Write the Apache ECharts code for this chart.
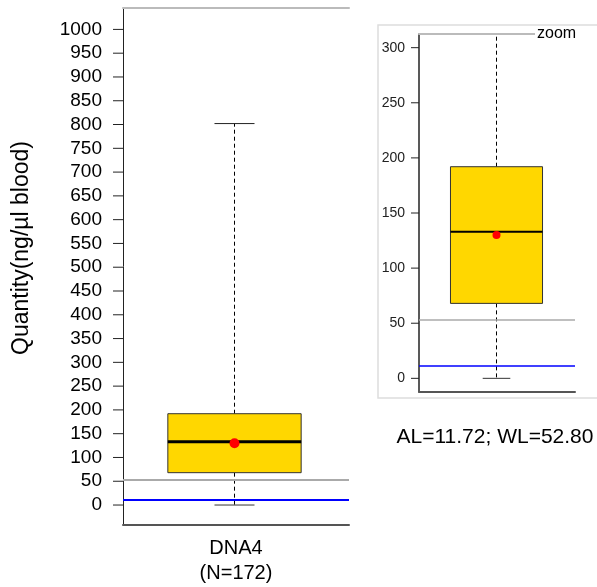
<!DOCTYPE html>
<html>
<head>
<meta charset="utf-8">
<script src="https://cdn.jsdelivr.net/npm/echarts@6/dist/echarts.min.js"></script>
<style>html,body{margin:0;padding:0;background:#fff}#c{width:597px;height:587px}</style>
</head>
<body>
<div id="c"></div>
<script>
// ---- data ----
const categories = ['DNA4'];
const nLabels = ['(N=172)'];
const q1 = [68];
const median = [133];
const q3 = [192];
const whiskerLow = [0];
const whiskerHigh = [802];
const mean = [130];
const AL = 11.72;
const WL = 52.80;
const mainTicks = [0, 50, 100, 150, 200, 250, 300, 350, 400, 450, 500, 550, 600, 650, 700, 750, 800, 850, 900, 950, 1000];
const zoomTicks = [0, 50, 100, 150, 200, 250, 300];
const zoomTitle = 'zoom';
const yTitle = 'Quantity(ng/\u00b5l blood)';

const FONT = 'Liberation Sans, Arial, sans-serif';
const boxData = categories.map((c, i) => [i, q1[i], median[i], q3[i], whiskerLow[i], whiskerHigh[i], mean[i]]);

function makeRender(opt) {
  return function (params, api) {
    const cs = params.coordSys;
    const clampY = y => Math.max(cs.y, Math.min(cs.y + cs.height, y));
    const idx = api.value(0);
    const band = api.size([1, 0])[0];
    const bw = band * 0.59;
    const cw = band * 0.177;
    const cx = Math.round(api.coord([idx, 0])[0] - opt.shift) + 0.5;
    const yQ1 = clampY(api.coord([idx, api.value(1)])[1]);
    const yMed = clampY(api.coord([idx, api.value(2)])[1]);
    const yQ3 = clampY(api.coord([idx, api.value(3)])[1]);
    const yLo = clampY(api.coord([idx, api.value(4)])[1]);
    const yHi = clampY(api.coord([idx, api.value(5)])[1]);
    const yMean = api.coord([idx, api.value(6)])[1];
    const children = [
      {type: 'line', shape: {x1: cx, y1: yQ3, x2: cx, y2: yHi}, style: {stroke: '#000', lineWidth: 1, lineDash: [4, 3]}},
      {type: 'line', shape: {x1: cx, y1: yQ1, x2: cx, y2: yLo}, style: {stroke: '#000', lineWidth: 1, lineDash: [4, 3]}},
      {type: 'rect', shape: {x: cx - bw / 2, y: yQ3, width: bw, height: yQ1 - yQ3}, style: {fill: '#FFD700', stroke: '#333', lineWidth: 1}},
      {type: 'line', shape: {x1: cx - bw / 2, y1: yMed, x2: cx + bw / 2, y2: yMed}, style: {stroke: '#000', lineWidth: opt.medW}},
      {type: 'circle', shape: {cx: cx, cy: yMean, r: opt.r}, style: {fill: '#ff0000'}}
    ];
    if (api.value(5) <= opt.max) {
      children.push({type: 'line', shape: {x1: cx - cw / 2, y1: yHi, x2: cx + cw / 2, y2: yHi}, style: {stroke: '#222', lineWidth: 1}});
    }
    children.push({type: 'line', shape: {x1: cx - cw / 2, y1: yLo, x2: cx + cw / 2, y2: yLo}, style: {stroke: '#333', lineWidth: 1}});
    return {type: 'group', children: children};
  };
}

function refLines(w) {
  return {
    symbol: 'none', silent: true, label: {show: false},
    data: [
      {yAxis: WL, lineStyle: {color: '#aaaaaa', width: w, type: 'solid'}},
      {yAxis: AL, lineStyle: {color: '#0000ff', width: w, type: 'solid'}}
    ]
  };
}

// axis labels carry their own tick dash (rich text), placed by the axis scale
function tickLabel(fontSize, color, gap, len) {
  return {
    margin: 0, fontFamily: FONT,
    formatter: v => '{t|' + v + '}{k| }',
    rich: {
      t: {fontSize: fontSize, color: color, fontFamily: FONT, padding: [0, gap, 0, 0], verticalAlign: 'middle'},
      k: {width: len, height: 1, fontSize: 1, lineHeight: 1, backgroundColor: '#222', verticalAlign: 'middle'}
    }
  };
}

const chart = echarts.init(document.getElementById('c'), null, {renderer: 'canvas'});
chart.setOption({
  animation: false,
  backgroundColor: '#fff',
  textStyle: {fontFamily: FONT},
  title: [
    {text: zoomTitle, left: 535, top: 26, padding: [0, 2, 0, 2], backgroundColor: '#fff',
     textStyle: {fontFamily: FONT, fontSize: 16, fontWeight: 'normal', color: '#000'}},
    {text: 'AL=' + AL.toFixed(2) + '; WL=' + WL.toFixed(2), left: 495, top: 427, textAlign: 'center', padding: 0,
     textStyle: {fontFamily: FONT, fontSize: 21, fontWeight: 'normal', color: '#000'}}
  ],
  graphic: [
    {type: 'rect', z: -10, shape: {x: 378, y: 25, width: 230, height: 373}, style: {fill: 'none', stroke: '#dddddd', lineWidth: 1.5}},
    {type: 'text', x: 22, y: 248, rotation: Math.PI / 2,
     style: {text: yTitle, font: '23px ' + FONT, fill: '#000', align: 'center', verticalAlign: 'middle'}}
  ],
  grid: [
    {left: 123, top: 8, width: 226, height: 517},
    {left: 419, top: 34, width: 156, height: 358}
  ],
  xAxis: [
    {gridIndex: 0, type: 'category', data: categories.map((c, i) => c + '\n' + nLabels[i]), position: 'bottom',
     axisLine: {onZero: false, lineStyle: {color: '#555', width: 2}}, axisTick: {show: false},
     axisLabel: {fontSize: 20, color: '#000', margin: 11, lineHeight: 25, fontFamily: FONT}},
    {gridIndex: 0, type: 'category', data: categories, position: 'top',
     axisLine: {onZero: false, lineStyle: {color: '#bbbbbb', width: 2}}, axisTick: {show: false}, axisLabel: {show: false}},
    {gridIndex: 1, type: 'category', data: categories, position: 'bottom',
     axisLine: {onZero: false, lineStyle: {color: '#555', width: 2}}, axisTick: {show: false}, axisLabel: {show: false}},
    {gridIndex: 1, type: 'category', data: categories, position: 'top',
     axisLine: {onZero: false, lineStyle: {color: '#bbbbbb', width: 2}}, axisTick: {show: false}, axisLabel: {show: false}}
  ],
  yAxis: [
    {gridIndex: 0, type: 'value', min: -42, max: 1045, splitLine: {show: false},
     axisLine: {show: true, lineStyle: {color: '#222', width: 1}},
     axisTick: {show: false},
     axisLabel: Object.assign({customValues: mainTicks}, tickLabel(19, '#000', 11, 10))},
    {gridIndex: 1, type: 'value', min: -12.4, max: 312.4, splitLine: {show: false},
     axisLine: {show: true, lineStyle: {color: '#222', width: 1.5}},
     axisTick: {show: false},
     axisLabel: Object.assign({customValues: zoomTicks}, tickLabel(14, '#222', 6, 8))}
  ],
  series: [
    {type: 'line', xAxisIndex: 0, yAxisIndex: 0, data: [], markLine: refLines(2), z: 3},
    {type: 'line', xAxisIndex: 2, yAxisIndex: 1, data: [], markLine: refLines(1.5), z: 3},
    {type: 'custom', xAxisIndex: 0, yAxisIndex: 0, data: boxData, z: 2,
     renderItem: makeRender({medW: 3, r: 5, max: 1045, shift: 2.5})},
    {type: 'custom', xAxisIndex: 2, yAxisIndex: 1, data: boxData, z: 2,
     renderItem: makeRender({medW: 2, r: 4, max: 312.4, shift: 1.5})}
  ]
});
</script>
</body>
</html>
